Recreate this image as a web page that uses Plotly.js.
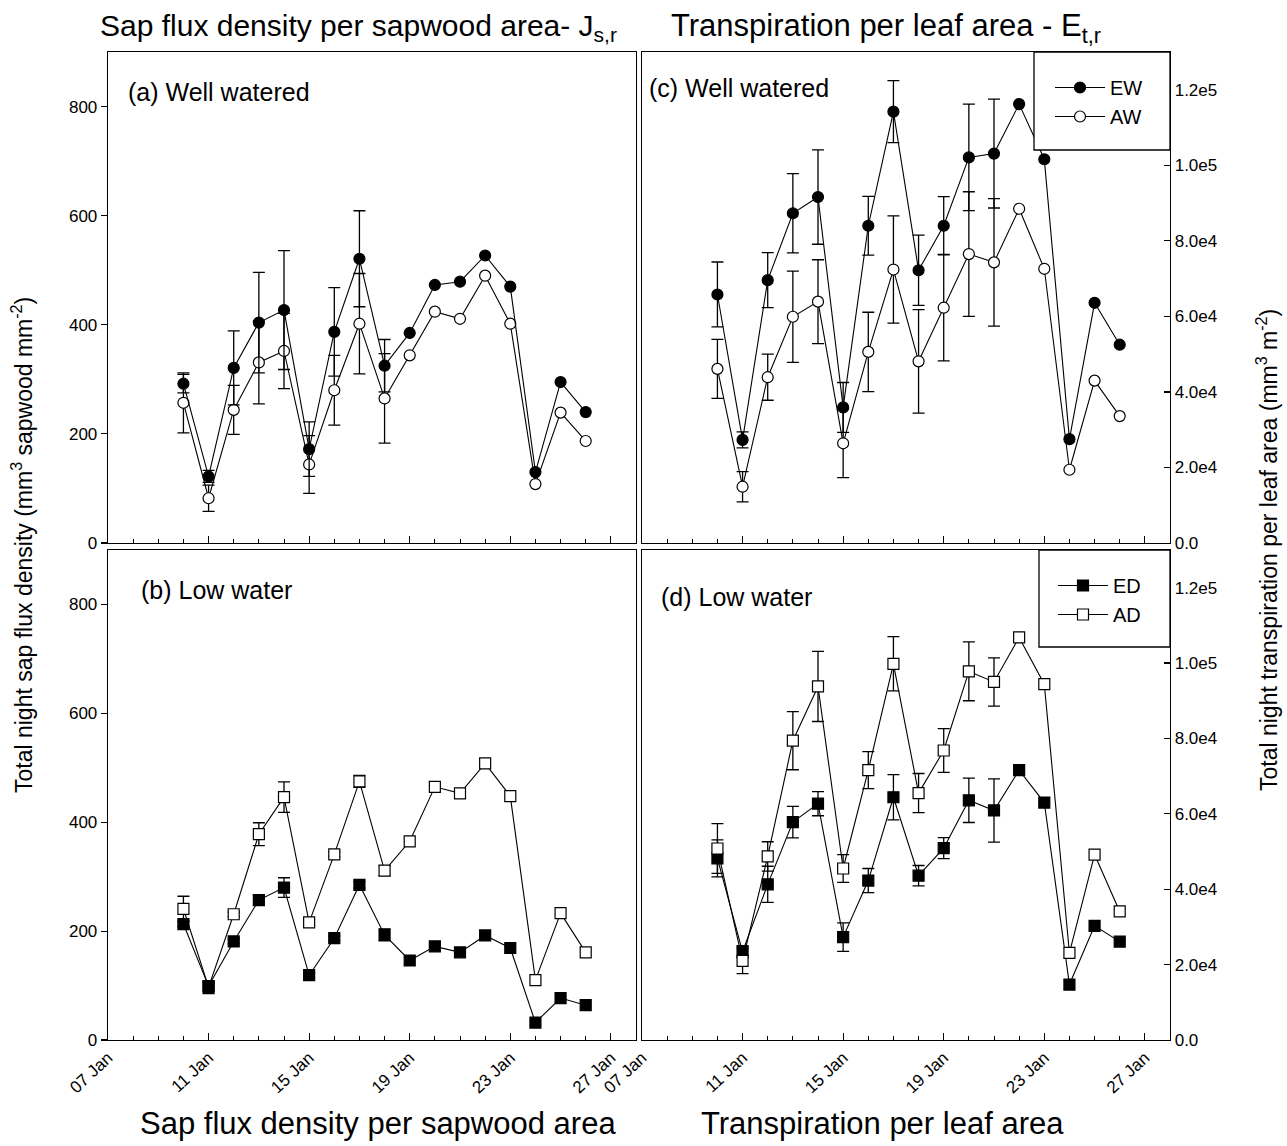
<!DOCTYPE html>
<html>
<head>
<meta charset="utf-8">
<script src="https://cdn.plot.ly/plotly-3.0.1.min.js"></script>
<style>html,body{margin:0;padding:0;background:#fff;}</style>
</head>
<body>
<div id="chart" style="width:1287px;height:1146px;"></div>
<script>
// ---------- data ----------
const dates = ['2010-01-10','2010-01-11','2010-01-12','2010-01-13','2010-01-14','2010-01-15','2010-01-16','2010-01-17','2010-01-18','2010-01-19','2010-01-20','2010-01-21','2010-01-22','2010-01-23','2010-01-24','2010-01-25','2010-01-26'];

// (a) sap flux density, well watered
const sapEW    = [292,122,321,404,427,172,387,521,325,385,473,479,527,470,130,295,240];
const sapEWerr = [17,11,68,92,109,50,81,88,48,NaN,NaN,NaN,NaN,NaN,NaN,NaN,NaN];
const sapAW    = [257,82,244,331,352,144,280,402,265,344,424,411,490,402,108,239,187];
const sapAWerr = [55,24,45,76,69,53,64,92,82,NaN,NaN,NaN,NaN,NaN,NaN,NaN,NaN];

// (b) sap flux density, low water
const sapED    = [213,99,181,257,280,119,187,285,193,146,172,161,192,169,32,77,64];
const sapEDerr = [5,8,4,9,18,4,4,6,11,NaN,NaN,NaN,NaN,NaN,NaN,NaN,NaN];
const sapAD    = [241,97,231,378,446,216,341,475,311,365,465,453,508,448,110,233,161];
const sapADerr = [23,12,4,21,28,5,4,11,9,NaN,NaN,NaN,NaN,NaN,NaN,NaN,NaN];

// (c) transpiration per leaf area, well watered
const trEW    = [65800,27300,69600,87300,91600,35900,84000,114200,72200,84000,102100,103100,116200,101600,27500,63600,52500];
const trEWerr = [8600,2100,7300,10500,12500,6600,7800,8200,9300,7700,14100,14400,NaN,NaN,NaN,NaN,NaN];
const trAW    = [46100,14900,43900,59900,63900,26400,50600,72400,48100,62300,76500,74300,88500,72600,19400,43000,33600];
const trAWerr = [7800,4000,6100,12100,11100,9100,10500,14200,13700,14100,16500,16900,NaN,NaN,NaN,NaN,NaN];

// (d) transpiration per leaf area, low water
const trED    = [48200,23400,41300,57800,62700,27300,42300,64400,43600,50900,63600,60900,71600,63000,14700,30300,26100];
const trEDerr = [4900,1600,4800,4200,3200,3800,3200,6000,2700,2800,5900,8400,NaN,NaN,NaN,NaN,NaN];
const trAD    = [50800,21000,48700,79400,93800,45500,71600,99800,65500,76800,97800,95000,106800,94400,23100,49200,34100];
const trADerr = [6600,3400,3900,7700,9300,3700,4900,7200,5200,5800,7800,6400,NaN,NaN,NaN,NaN,NaN];

const leftTickVals  = [0,200,400,600,800];
const rightTickVals = [0,20000,40000,60000,80000,100000,120000];
const rightTickText = ['0.0','2.0e4','4.0e4','6.0e4','8.0e4','1.0e5','1.2e5'];
const xRange = ['2010-01-07','2010-01-28'];

// ---------- styling ----------
const FONT = 'Arial, "Liberation Sans", sans-serif';
const W = 1287, H = 1146;
const px = v => v / W;
const py = v => 1 - v / H;

function tr(y, err, xa, ya, symbol, filled, name, legend, showlegend) {
  return {
    x: dates, y: y, xaxis: xa, yaxis: ya, type: 'scatter', mode: 'lines+markers',
    name: name, legend: legend, showlegend: showlegend,
    line: {color: 'black', width: 1.1},
    marker: {symbol: symbol, size: 11, color: filled ? 'black' : 'white', line: {color: 'black', width: 1.2}},
    error_y: {type: 'data', array: err, visible: true, color: 'black', thickness: 1.3, width: 6}
  };
}

const data = [
  tr(sapAW, sapAWerr, 'x', 'y', 'circle', false, 'AW', 'legend', false),
  tr(sapEW, sapEWerr, 'x', 'y', 'circle', true, 'EW', 'legend', false),
  tr(trEW, trEWerr, 'x2', 'y2', 'circle', true, 'EW', 'legend', true),
  tr(trAW, trAWerr, 'x2', 'y2', 'circle', false, 'AW', 'legend', true),
  tr(sapAD, sapADerr, 'x3', 'y3', 'square', false, 'AD', 'legend2', false),
  tr(sapED, sapEDerr, 'x3', 'y3', 'square', true, 'ED', 'legend2', false),
  tr(trED, trEDerr, 'x4', 'y4', 'square', true, 'ED', 'legend2', true),
  tr(trAD, trADerr, 'x4', 'y4', 'square', false, 'AD', 'legend2', true)
];

const domLeft = [px(108), px(636)];
const domRight = [px(642), px(1170)];
const domTop = [py(543), py(52)];
const domBot = [py(1040), py(550)];

function xax(domain, anchor, labels) {
  return {
    domain: domain, anchor: anchor, type: 'date', range: xRange,
    tick0: '2010-01-07', dtick: 4 * 86400000, tickformat: '%d %b',
    ticks: 'inside', ticklen: 7, tickwidth: 1.2, tickcolor: 'black',
    minor: {dtick: 86400000, ticks: 'inside', ticklen: 4, tickwidth: 1, tickcolor: 'black'},
    showticklabels: labels, tickangle: -43, tickfont: {size: 17, family: FONT, color: 'black'},
    showline: true, mirror: true, linecolor: 'black', linewidth: 1.3,
    showgrid: false, zeroline: false
  };
}
function yleft(domain, anchor) {
  return {
    domain: domain, anchor: anchor, range: [0, 900], tickvals: leftTickVals,
    ticks: 'outside', ticklen: 6, tickwidth: 1.2, tickcolor: 'black',
    tickfont: {size: 17, family: FONT, color: 'black'},
    showline: true, mirror: true, linecolor: 'black', linewidth: 1.3,
    showgrid: false, zeroline: false
  };
}
function yright(domain, anchor) {
  return {
    domain: domain, anchor: anchor, side: 'right', range: [0, 130000],
    tickvals: rightTickVals, ticktext: rightTickText,
    ticks: 'inside', ticklen: 6, tickwidth: 1.2, tickcolor: 'black',
    tickfont: {size: 17, family: FONT, color: 'black'},
    showline: true, mirror: true, linecolor: 'black', linewidth: 1.3,
    showgrid: false, zeroline: false
  };
}

function ann(text, x, y, size, opts) {
  return Object.assign({
    text: text, x: x, y: y, xref: 'paper', yref: 'paper', showarrow: false,
    xanchor: 'left', yanchor: 'middle', font: {size: size, family: FONT, color: 'black'}
  }, opts || {});
}

const layout = {
  width: W, height: H, margin: {l: 0, r: 0, t: 0, b: 0},
  paper_bgcolor: 'white', plot_bgcolor: 'white',
  font: {family: FONT, color: 'black'},
  showlegend: true,
  xaxis: xax(domLeft, 'y', false),
  yaxis: yleft(domTop, 'x'),
  xaxis2: xax(domRight, 'y2', false),
  yaxis2: yright(domTop, 'x2'),
  xaxis3: xax(domLeft, 'y3', true),
  yaxis3: yleft(domBot, 'x3'),
  xaxis4: xax(domRight, 'y4', true),
  yaxis4: yright(domBot, 'x4'),
  legend: {x: px(1050), y: py(68), xanchor: 'left', yanchor: 'top', bgcolor: 'rgba(0,0,0,0)',
           borderwidth: 0, font: {size: 20, family: FONT, color: 'black'}, itemwidth: 50, tracegroupgap: 0},
  legend2: {x: px(1053), y: py(566), xanchor: 'left', yanchor: 'top', bgcolor: 'rgba(0,0,0,0)',
           borderwidth: 0, font: {size: 20, family: FONT, color: 'black'}, itemwidth: 50, tracegroupgap: 0},
  shapes: [
    {type: 'rect', xref: 'paper', yref: 'paper', x0: px(1034), x1: px(1170), y0: py(150), y1: py(52),
     line: {color: 'black', width: 1.3}, fillcolor: 'white', layer: 'above'},
    {type: 'rect', xref: 'paper', yref: 'paper', x0: px(1039), x1: px(1170), y0: py(647), y1: py(550),
     line: {color: 'black', width: 1.3}, fillcolor: 'white', layer: 'above'}
  ],
  annotations: [
    ann('Sap flux density per sapwood area- J<sub>s,r</sub>', px(98), py(28), 30),
    ann('Transpiration per leaf area - E<sub>t,r</sub>', px(669), py(28), 31),
    ann('(a) Well watered', px(126), py(92), 25),
    ann('(b) Low water', px(139), py(590), 25),
    ann('(c) Well watered', px(647), py(88), 25),
    ann('(d) Low water', px(659), py(597), 25),
    ann('Sap flux density per sapwood area', px(378), py(1123), 31, {xanchor: 'center'}),
    ann('Transpiration per leaf area', px(882), py(1123), 31, {xanchor: 'center'}),
    ann('Total night sap flux density (mm<sup>3</sup> sapwood mm<sup>-2</sup>)', px(22), py(545), 23,
        {xanchor: 'center', textangle: -90}),
    ann('Total night transpiration per leaf area (mm<sup>3</sup> m<sup>-2</sup>)', px(1267), py(550), 23,
        {xanchor: 'center', textangle: -90})
  ]
};

Plotly.newPlot('chart', data, layout, {staticPlot: true, displayModeBar: false});
</script>
</body>
</html>
